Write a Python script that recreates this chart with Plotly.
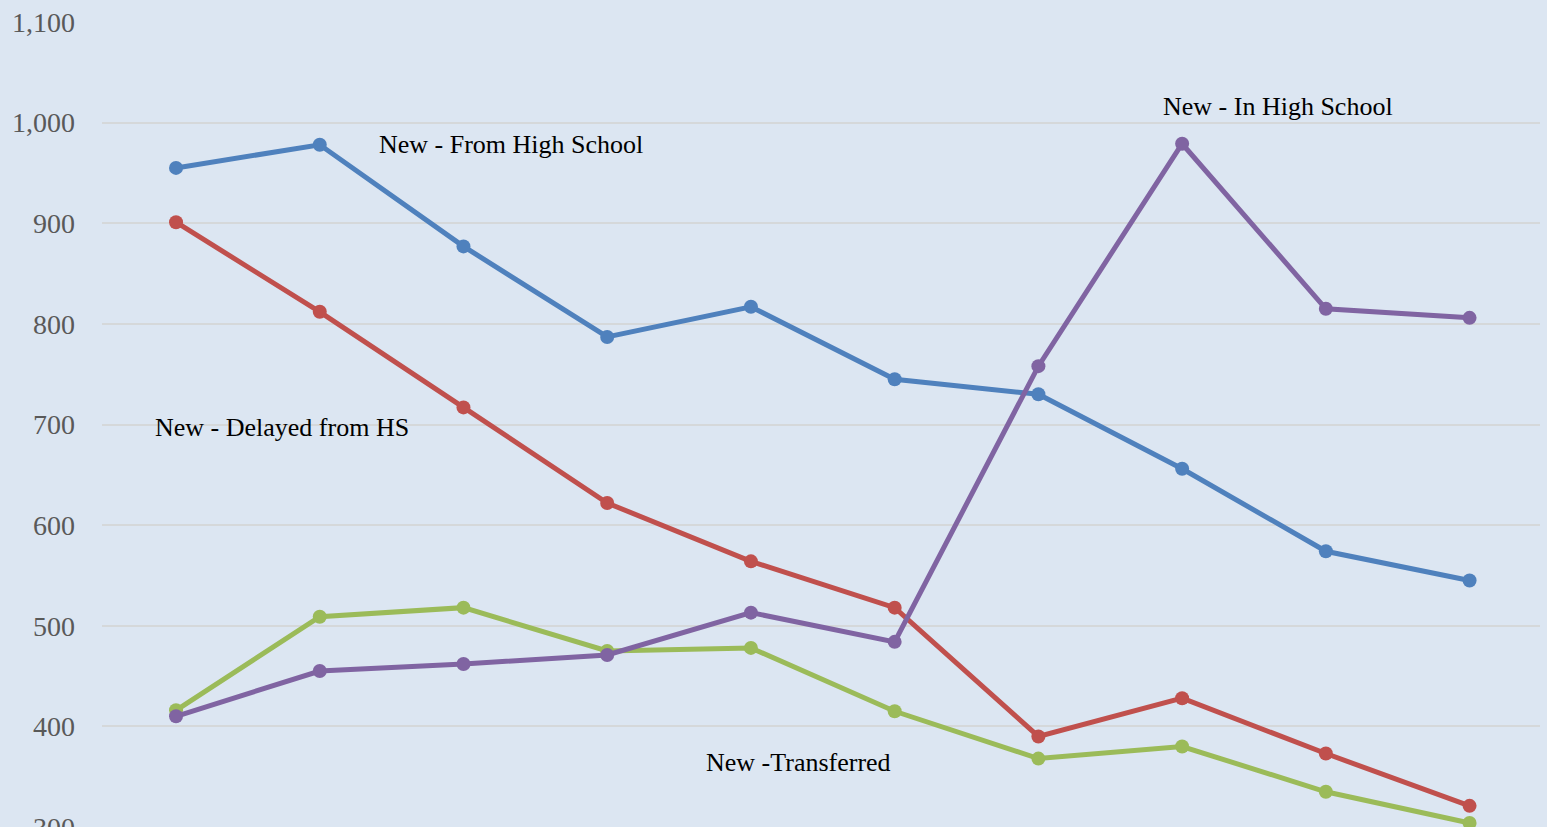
import plotly.graph_objects as go

categories = list(range(10))
from_high_school = [955, 978, 877, 787, 817, 745, 730, 656, 574, 545]
delayed_from_hs = [901, 812, 717, 622, 564, 518, 390, 428, 373, 321]
transferred = [416, 509, 518, 475, 478, 415, 368, 380, 335, 304]
in_high_school = [410, 455, 462, 471, 513, 484, 758, 979, 815, 806]

series = [
    ("New - From High School", from_high_school, "#4F81BD"),
    ("New - Delayed from HS", delayed_from_hs, "#C0504D"),
    ("New -Transferred", transferred, "#9BBB59"),
    ("New - In High School", in_high_school, "#8064A2"),
]

label_pos = [
    ("New - From High School", 1.40, 978),
    ("New - Delayed from HS", -0.16, 697),
    ("New -Transferred", 3.67, 364),
    ("New - In High School", 6.85, 1016),
]

FONT = "Liberation Serif"

fig = go.Figure()
for name, vals, color in series:
    fig.add_trace(go.Scatter(
        x=categories, y=vals, name=name, mode="lines+markers",
        line=dict(color=color, width=5),
        marker=dict(color=color, size=14),
    ))

for text, x, y in label_pos:
    fig.add_annotation(x=x, y=y, text=text, showarrow=False, xanchor="left",
                       yanchor="middle", font=dict(family=FONT, size=26, color="#000000"))

fig.update_layout(
    width=1547, height=850,
    margin=dict(l=102, r=7, t=21, b=20),
    paper_bgcolor="#DCE6F2", plot_bgcolor="#DCE6F2",
    showlegend=False,
    font=dict(family=FONT),
)
fig.update_xaxes(range=[-0.515, 9.49], showticklabels=False, showgrid=False,
                 zeroline=False, showline=False)
fig.update_yaxes(range=[300, 1100], dtick=100, tickformat=",d",
                 tickfont=dict(family=FONT, size=28, color="#595959"),
                 gridcolor="#D5D8DA", gridwidth=1.5, zeroline=False, showline=False,
                 ticks="", ticklabelstandoff=26)

fig.write_html(
    "out.html",
    config={"displayModeBar": False},
    post_script="document.body.style.margin='0';document.body.style.overflow='hidden';",
)
